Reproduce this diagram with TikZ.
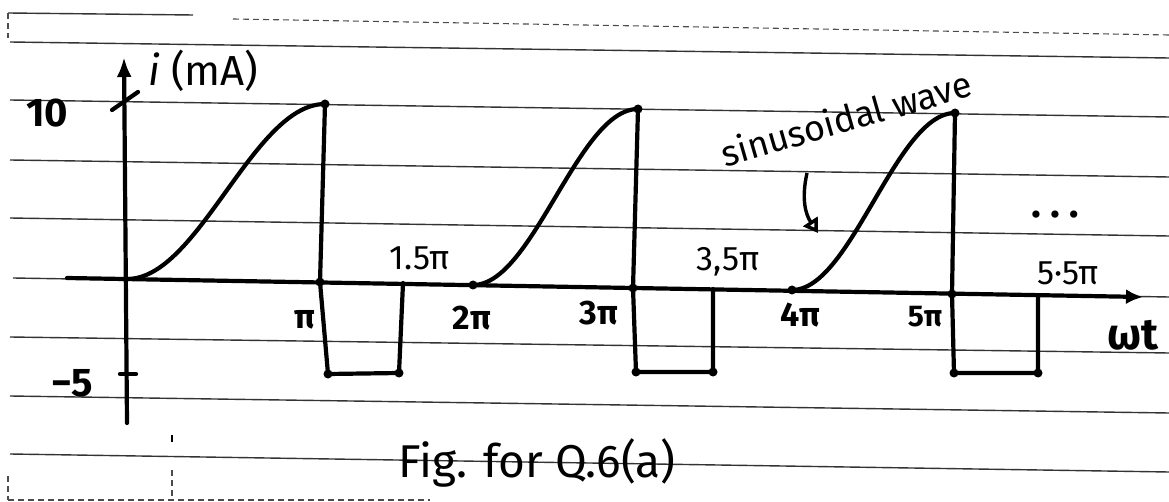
\documentclass[tikz,border=0pt]{standalone}
\usepackage{fontspec}
\setmainfont{Fira Sans}
\usetikzlibrary{arrows.meta}
\begin{document}
\begin{tikzpicture}[x=1pt,y=-1pt,
  rule/.style={line width=1.4pt, black!80},
  faint/.style={line width=1.1pt, black!70, dash pattern=on 6pt off 4pt},
  wave/.style={line width=4.2pt, line join=round, line cap=round},
  lbl/.style={font=\fontsize{34}{38}\selectfont, inner sep=0pt},
  blbl/.style={font=\fontsize{34}{38}\selectfont\bfseries, inner sep=0pt},
  big/.style={font=\fontsize{40}{44}\selectfont\bfseries, inner sep=0pt},
  pt/.style={circle, fill, inner sep=0pt, minimum size=9pt}]
\useasboundingbox (0,0) rectangle (1169,502);
% notebook rules
\draw[rule] (8,13) -- (193,15);
\draw[faint] (233,19) -- (1169,35);
\draw[faint] (8,13) -- (8,38);
\foreach \a/\b in {42/58,100/117,160/177,218/236,337/353,396/413,454/472}
  \draw[rule] (10,\a) -- (1169,\b);
\draw[rule] (13,278) -- (1169,297);
\draw[faint] (8,500) -- (430,500);
\draw[faint] (8,476) -- (8,500);
\draw[faint] (172,470) -- (172,500);
\draw[line width=1.2pt] (172,435) -- (172,442);
% key points
\coordinate (O) at (127,279);
\coordinate (Ytop) at (124,57);
\coordinate (Ybot) at (127,423);
\coordinate (Xl) at (67,278);
\coordinate (Xr) at (1143,297);
\coordinate (P1) at (325,104); \coordinate (A1) at (320,282);
\coordinate (B1) at (328,374); \coordinate (C1) at (399,373); \coordinate (D1) at (403,283);
\coordinate (S2) at (473,285);
\coordinate (P2) at (638,109); \coordinate (A2) at (633,288);
\coordinate (B2) at (636,372); \coordinate (C2) at (713,372); \coordinate (D2) at (713,289);
\coordinate (S3) at (792,290);
\coordinate (P3) at (955,113); \coordinate (A3) at (952,294);
\coordinate (B3) at (954,373); \coordinate (C3) at (1038,373); \coordinate (D3) at (1038,295);
% axes
\draw[wave, -{Latex[length=20pt,width=15pt]}] (Ybot) -- (Ytop);
\draw[wave, -{Latex[length=17pt,width=15pt]}] (Xl) -- (Xr);
\draw[wave] (112,110) -- (138,92);
\draw[wave] (120,374) -- (136,374);
% waveform
\draw[wave] plot[domain=0:1,samples=50] ({127+198*\x},{279-175*(1-cos(180*\x))/2});
\draw[wave] plot[domain=0:1,samples=50] ({473+165*\x},{285-176*(1-cos(180*\x))/2});
\draw[wave] plot[domain=0:1,samples=50] ({792+163*\x},{290-177*(1-cos(180*\x))/2});
\draw[wave] (P1) -- (A1) -- (B1) -- (C1) -- (D1);
\draw[wave] (P2) -- (A2) -- (B2) -- (C2) -- (D2);
\draw[wave] (P3) -- (A3) -- (B3) -- (C3) -- (D3);
\foreach \p in {P1,A1,B1,C1,S2,P2,A2,B2,C2,S3,P3,A3,B3,C3}
  \node[pt] at (\p) {};
% labels
\node[big] (l10) at (47,113) {10};
\node[big] (lm5) at (72,383) {−5};
\node[anchor=west, inner sep=0pt, font=\fontsize{42}{46}\selectfont] (li) at (148,71) {\itshape i\upshape\ (mA)};
\node[blbl] (lpi) at (305,320) {π};
\node[lbl] (l15) at (420,258) {1.5π};
\node[blbl] (l2) at (472,318) {2π};
\node[blbl] (l3) at (599,313) {3π};
\node[lbl] (l35) at (728,262) {3,5π};
\node[blbl] (l4) at (800,315) {4π};
\node[blbl, font=\fontsize{30}{34}\selectfont\bfseries] (l5) at (925,317) {5π};
\node[lbl] (l55) at (1068,273) {5·5π};
\node[big, font=\fontsize{44}{48}\selectfont\bfseries] (lwt) at (1133,335) {ωt};
\node[font=\fontsize{36}{40}\selectfont, inner sep=0pt, rotate=16] (lsin) at (846,118) {sinusoidal wave};
\node[font=\fontsize{46}{50}\selectfont, inner sep=0pt] (lfig) at (537,463) {Fig. for Q.6(a)};
\node[font=\fontsize{32}{36}\selectfont, inner sep=0pt] (ldots) at (1055,218) {• • •};
\coordinate (arrS) at (807,173);
\coordinate (arrE) at (818,233);
\draw[line width=3.4pt, -{Triangle[open,length=14pt,width=17pt]}] (arrS) .. controls (801,200) and (806,215) .. (arrE);
\end{tikzpicture}
\end{document}
